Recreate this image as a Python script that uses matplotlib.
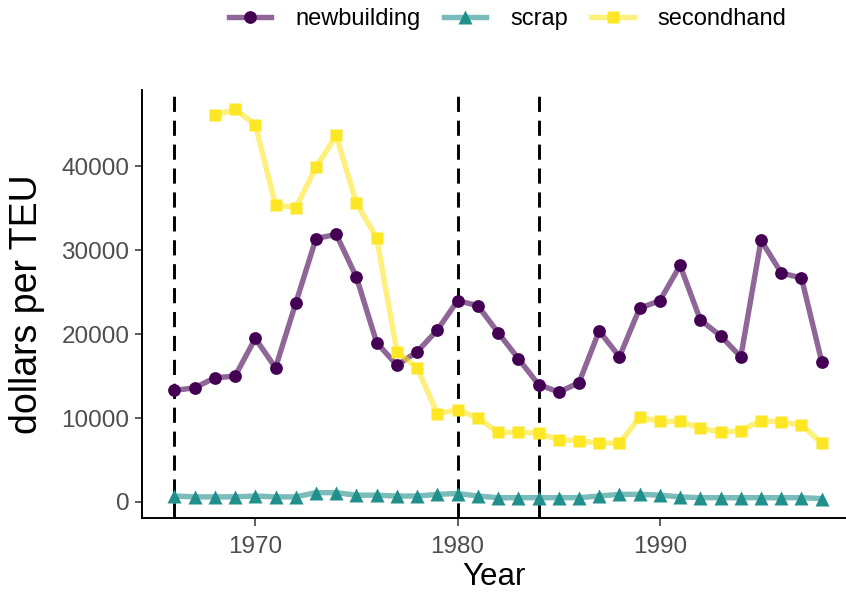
import numpy as np
import matplotlib
matplotlib.use("Agg")
import matplotlib.pyplot as plt
from matplotlib.legend_handler import HandlerLine2D
from matplotlib.lines import Line2D

plt.rcParams['font.family'] = ['Liberation Sans', 'DejaVu Sans']

years = list(range(1966, 1999))
newbuilding = [13300, 13600, 14800, 15000, 19500, 16000, 23700, 31400, 31900, 26800,
               19000, 16300, 17900, 20500, 24000, 23400, 20200, 17100, 14000, 13100,
               14200, 20400, 17300, 23100, 24000, 28200, 21700, 19800, 17300, 31200,
               27300, 26700, 16700]
scrap = [700, 600, 600, 600, 700, 600, 600, 1100, 1100, 800,
         800, 700, 700, 900, 1000, 700, 500, 500, 500, 500,
         500, 700, 900, 900, 800, 600, 500, 500, 500, 500,
         500, 500, 400]
secondhand_years = list(range(1968, 1999))
secondhand = [46100, 46800, 45000, 35400, 35100, 39900, 43700, 35600, 31500, 17900,
              16000, 10500, 11000, 10000, 8300, 8300, 8200, 7400, 7300, 7000,
              7000, 10100, 9600, 9600, 8800, 8300, 8500, 9700, 9500, 9200, 7000]
vlines = [1966, 1980, 1984]
labels = ['newbuilding', 'scrap', 'secondhand']

colors = {'newbuilding': '#440154', 'scrap': '#21908C', 'secondhand': '#FDE725'}
LW = 3.9
MS = {'o': 9.2, '^': 9.8, 's': 8.7}

fig = plt.figure(figsize=(8.46, 5.94), dpi=100)
ax = fig.add_axes([142 / 846, 76 / 594, 704 / 846, 428 / 594])

series = [('newbuilding', years, newbuilding, 'o'),
          ('scrap', years, scrap, '^'),
          ('secondhand', secondhand_years, secondhand, 's')]

handles = []
for name, xs, ys, mk in series:
    c = colors[name]
    ax.plot(xs, ys, color=c, alpha=0.6, lw=LW, solid_capstyle='butt',
            solid_joinstyle='round', zorder=2)
    ax.plot(xs, ys, ls='none', marker=mk, color=c, ms=MS[mk], mec='none', zorder=3)
    h = Line2D([], [], color=c, marker=mk)
    handles.append(h)


# legend key: translucent line with an opaque marker in the middle
class Handler(HandlerLine2D):
    def create_artists(self, legend, orig, xd, yd, w, h, fs, trans):
        y = h / 2 - yd
        ln = Line2D([-xd, -xd + w], [y, y], color=orig.get_color(), lw=LW, alpha=0.6,
                    transform=trans)
        m = Line2D([-xd + w / 2], [y], ls='none', marker=orig.get_marker(),
                   color=orig.get_color(), ms=MS[orig.get_marker()], mec='none',
                   transform=trans)
        return [ln, m]


for v in vlines:
    ax.axvline(v, color='black', lw=2.1, ls=(0, (5.2, 3.0)), zorder=1)

ax.set_xlim(1964.4, 1999.2)
ax.set_ylim(-1920, 49120)
ax.set_xticks([1970, 1980, 1990])
ax.set_yticks([0, 10000, 20000, 30000, 40000])
ax.tick_params(labelsize=17.5, labelcolor='#4D4D4D', color='#333333', length=5,
               width=1.1)
ax.tick_params(axis='x', pad=7, length=6)
ax.tick_params(axis='y', pad=4)
ax.spines['top'].set_visible(False)
ax.spines['right'].set_visible(False)
ax.spines['left'].set_linewidth(1.4)
ax.spines['bottom'].set_linewidth(1.4)
ax.set_xlabel('Year', fontsize=22.5, labelpad=3)
ax.set_ylabel('dollars per TEU', fontsize=27, labelpad=12)

fig.legend(handles, labels,
           handler_map={h: Handler() for h in handles},
           loc='center', bbox_to_anchor=(0.6, 0.968), ncol=3, frameon=False,
           fontsize=17, handlelength=1.8, columnspacing=1.0, handletextpad=1.0)

fig.savefig('out.png', dpi=100)
